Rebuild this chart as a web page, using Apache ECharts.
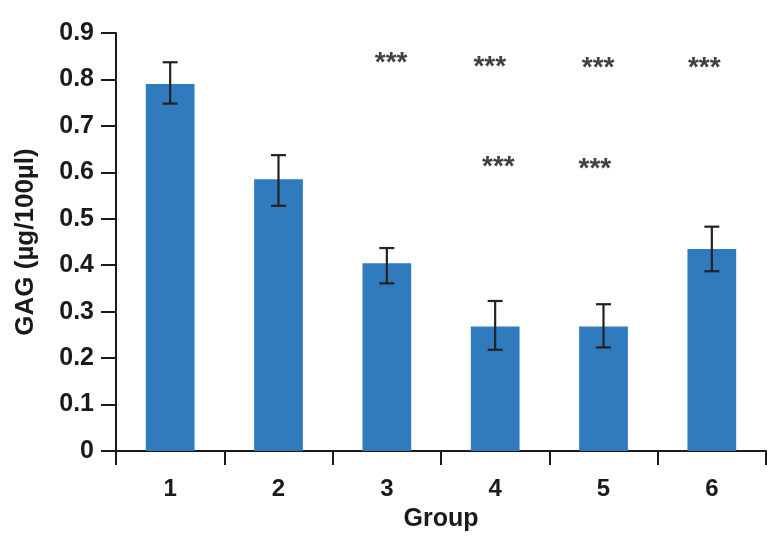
<!DOCTYPE html>
<html>
<head>
<meta charset="utf-8">
<script src="https://cdn.jsdelivr.net/npm/echarts@6/dist/echarts.min.js"></script>
<style>html,body{margin:0;padding:0;background:#fff;}#c{width:771px;height:537px;}</style>
</head>
<body>
<div id="c"></div>
<script>
const categories = ['1', '2', '3', '4', '5', '6'];
const meanValues = [0.790, 0.585, 0.404, 0.268, 0.268, 0.435];
const errLow = [0.748, 0.528, 0.361, 0.218, 0.223, 0.387];
const errHigh = [0.837, 0.637, 0.437, 0.323, 0.316, 0.483];
const starX = [3.04, 3.95, 4.03, 4.95, 4.92, 5.93];
const starY = [0.848, 0.839, 0.623, 0.836, 0.619, 0.836];
const starText = '***';
const yTicks = [0, 0.1, 0.2, 0.3, 0.4, 0.5, 0.6, 0.7, 0.8, 0.9];

const axisColor = '#1a1a1a';
const font = 'Liberation Sans, Arial, sans-serif';
const chart = echarts.init(document.getElementById('c'), null, {renderer: 'canvas'});
chart.setOption({
  animation: false,
  grid: {left: 116, right: 5, top: 33, bottom: 85},
  xAxis: [{
    type: 'category',
    data: categories,
    boundaryGap: true,
    name: 'Group',
    nameLocation: 'middle',
    nameGap: 56,
    nameTextStyle: {fontFamily: font, fontWeight: 'bold', fontSize: 25, color: axisColor},
    axisLine: {lineStyle: {color: axisColor, width: 2}},
    axisTick: {show: true, length: 14, lineStyle: {color: axisColor, width: 2}, alignWithLabel: false},
    axisLabel: {fontFamily: font, fontWeight: 'bold', fontSize: 24, color: axisColor, margin: 26},
    splitLine: {show: false}
  }, {
    type: 'value',
    min: 0.5, max: 6.5,
    show: false
  }],
  yAxis: {
    type: 'value',
    min: 0, max: 0.9, interval: 0.1,
    name: 'GAG (µg/100µl)',
    nameLocation: 'middle',
    nameGap: 77,
    nameTextStyle: {fontFamily: font, fontWeight: 'bold', fontSize: 26, color: axisColor},
    axisLine: {show: true, lineStyle: {color: axisColor, width: 2}},
    axisTick: {show: true, length: 15, lineStyle: {color: axisColor, width: 2}},
    axisLabel: {fontFamily: font, fontWeight: 'bold', fontSize: 25, color: axisColor, margin: 22,
      formatter: v => { const t = yTicks.find(k => Math.abs(k - v) < 1e-9); return t === 0 ? '0' : String(t); }},
    splitLine: {show: false}
  },
  series: [{
    type: 'bar',
    data: meanValues,
    barWidth: '45%',
    itemStyle: {color: '#2f7bbd'},
    xAxisIndex: 0
  }, {
    type: 'custom',
    xAxisIndex: 0,
    data: categories.map((c, i) => [i, errLow[i], errHigh[i]]),
    renderItem: function (params, api) {
      const lo = api.coord([api.value(0), api.value(1)]);
      const hi = api.coord([api.value(0), api.value(2)]);
      const hw = 7.5;
      const style = {stroke: '#222', lineWidth: 2.2};
      return {type: 'group', children: [
        {type: 'line', shape: {x1: hi[0], y1: hi[1], x2: lo[0], y2: lo[1]}, style: style},
        {type: 'line', shape: {x1: hi[0] - hw, y1: hi[1], x2: hi[0] + hw, y2: hi[1]}, style: style},
        {type: 'line', shape: {x1: lo[0] - hw, y1: lo[1], x2: lo[0] + hw, y2: lo[1]}, style: style}
      ]};
    },
    z: 5
  }, {
    type: 'scatter',
    xAxisIndex: 1,
    data: starX.map((x, i) => [x, starY[i]]),
    symbolSize: 0,
    label: {show: true, position: 'inside', formatter: starText, fontFamily: font, fontWeight: 'bold',
      fontSize: 28, color: '#111', offset: [0, 6]}
  }]
});
</script>
</body>
</html>
